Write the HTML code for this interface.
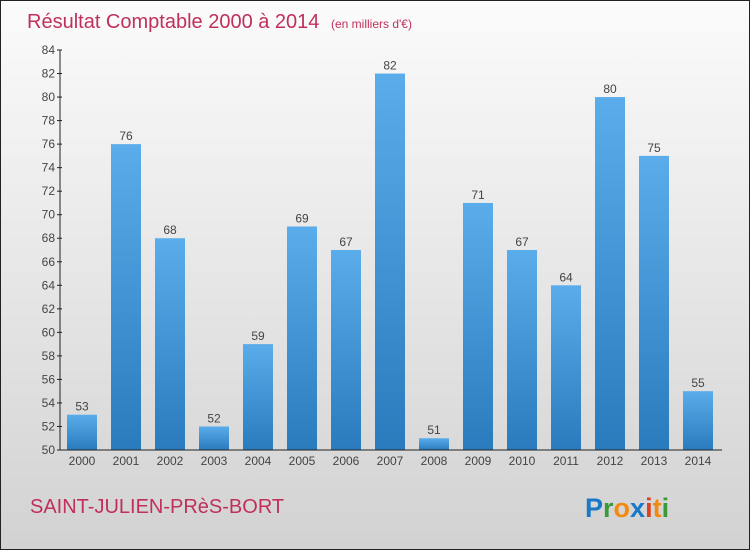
<!DOCTYPE html>
<html><head><meta charset="utf-8"><style>
body{margin:0;width:750px;height:550px;overflow:hidden;font-family:"Liberation Sans",sans-serif}
</style></head><body>
<svg width="750" height="550" xmlns="http://www.w3.org/2000/svg">
<defs>
<linearGradient id="bg" x1="0" y1="0" x2="0" y2="1"><stop offset="0" stop-color="#fbfbfb"/><stop offset="1" stop-color="#d2d2d2"/></linearGradient>
<linearGradient id="bar" x1="0" y1="0" x2="0" y2="1"><stop offset="0" stop-color="#5aacea"/><stop offset="1" stop-color="#2a7bbd"/></linearGradient>
</defs>
<rect x="0.5" y="0.5" width="749" height="549" fill="url(#bg)" stroke="#222"/>
<text x="27" y="28" font-size="20" fill="#c0305a">Résultat Comptable 2000 à 2014 <tspan font-size="12" dx="6">(en milliers d'€)</tspan></text>
<g id="yaxis"></g>
<g id="bars"></g>
<g id="xaxis"></g>
<text x="30" y="513" font-size="20" fill="#c0305a">SAINT-JULIEN-PRèS-BORT</text>
<text x="585" y="517" font-size="27" font-weight="bold"><tspan fill="#1a78c8">P</tspan><tspan fill="#3a9a3a">r</tspan><tspan fill="#f08a10">o</tspan><tspan fill="#1a78c8">x</tspan><tspan fill="#e04020">i</tspan><tspan fill="#f08a10">t</tspan><tspan fill="#3a9a3a">i</tspan></text>
</svg>
<script>
const years=["2000","2001","2002","2003","2004","2005","2006","2007","2008","2009","2010","2011","2012","2013","2014"];
const values=[53,76,68,52,59,69,67,82,51,71,67,64,80,75,55];
const yTicks=[50,52,54,56,58,60,62,64,66,68,70,72,74,76,78,80,82,84];
{
const NS="http://www.w3.org/2000/svg";
const yMin=50,yMax=84,plotTop=50,plotBot=450;
function y(v){return plotBot-(v-yMin)/(yMax-yMin)*(plotBot-plotTop);}
function xc(i){return 82+i*44;}
function mk(t,a,p){const e=document.createElementNS(NS,t);for(const k in a)e.setAttribute(k,a[k]);p.appendChild(e);return e;}
const ya=document.getElementById('yaxis'),ba=document.getElementById('bars'),xa=document.getElementById('xaxis');
mk('line',{x1:60,y1:plotTop,x2:60,y2:plotBot,stroke:'#222'},ya);
yTicks.forEach(v=>{
 const l=mk('line',{x1:57,y1:y(v),x2:62,y2:y(v),stroke:'#222'},ya);
 
 
 const t=mk('text',{x:55,y:y(v)+4,'font-size':12,fill:'#444','text-anchor':'end'},ya);t.textContent=v;
 
 
});
mk('line',{x1:60,y1:plotBot,x2:722,y2:plotBot,stroke:'#222'},xa);
values.forEach((v,i)=>{
 const r=mk('rect',{x:xc(i)-15,y:y(v),width:30,height:plotBot-y(v),fill:'url(#bar)'},ba);
 
 
 const t=mk('text',{x:xc(i),y:y(v)-4,'font-size':12,fill:'#444','text-anchor':'middle'},ba);t.textContent=v;
 
 
 const xt=mk('text',{x:xc(i),y:465,'font-size':12,fill:'#444','text-anchor':'middle'},xa);xt.textContent=years[i];
 
 
});
}
</script>
</body></html>
